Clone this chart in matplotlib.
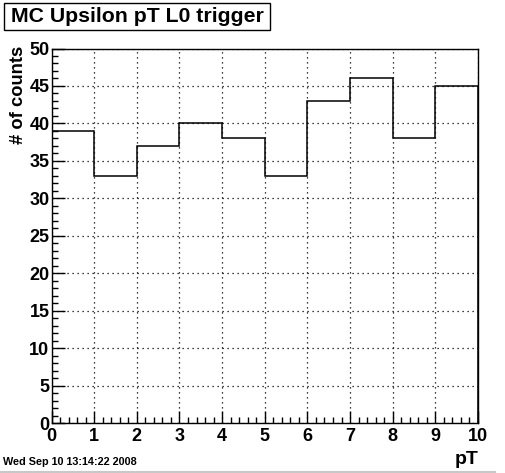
import numpy as np
import matplotlib.pyplot as plt
from matplotlib.ticker import MultipleLocator

# histogram data
bin_edges = [0, 1, 2, 3, 4, 5, 6, 7, 8, 9, 10]
counts = [39, 33, 37, 40, 38, 33, 43, 46, 38, 45]
title = 'MC Upsilon pT L0 trigger'
stamp = 'Wed Sep 10 13:14:22 2008'

plt.rcParams['font.family'] = ['Liberation Sans', 'DejaVu Sans']
plt.rcParams['font.weight'] = 'bold'

fig = plt.figure(figsize=(5.05, 4.73), dpi=100)
ax = fig.add_axes([51.5 / 505, 1 - 423 / 473, (478 - 51.5) / 505, (423 - 48.5) / 473])

ax.stairs(counts, bin_edges, color='black', lw=1.1)

ax.set_xlim(0, 10)
ax.set_ylim(0, 50)
ax.xaxis.set_major_locator(MultipleLocator(1))
ax.xaxis.set_minor_locator(MultipleLocator(0.2))
ax.yaxis.set_major_locator(MultipleLocator(5))
ax.yaxis.set_minor_locator(MultipleLocator(1))
ax.tick_params(which='both', direction='in', top=False, right=False,
               labelsize=13, width=1, color='black')
ax.tick_params(which='major', length=9)
ax.tick_params(which='minor', length=4.5)
ax.tick_params(axis='y', which='major', pad=1.5)
ax.tick_params(axis='x', which='major', pad=3.5)
for lbl in ax.get_xticklabels() + ax.get_yticklabels():
    lbl.set_fontweight('bold')

ax.grid(True, which='major', color='black', linestyle=(0, (1, 3)), lw=0.9)
for sp in ax.spines.values():
    sp.set_linewidth(1)

ax.set_ylabel('# of counts', fontsize=13.2, fontweight='bold')
ax.yaxis.set_label_coords(-0.058, 0.877)
fig.text(467 / 505, 1 - 459 / 473, 'pT', fontsize=14, fontweight='bold',
         ha='center', va='center')

fig.text(3 / 505, 1 - 462 / 473, stamp, fontsize=7.8, fontweight='bold',
         ha='left', va='center')

fig.text(137 / 505, 1 - 17 / 473, title, fontsize=15.3, fontweight='bold',
         ha='center', va='center')
fig.add_artist(plt.Rectangle((3.5 / 505, 1 - 30 / 473), 266 / 505, 27 / 473,
                             transform=fig.transFigure, fill=False,
                             ec='black', lw=1))
fig.add_artist(plt.Line2D([0, 495 / 505], [1 - 471.5 / 473] * 2,
                          transform=fig.transFigure, color='#c8c8c8', lw=1.5))

fig.savefig('out.png', dpi=100)
